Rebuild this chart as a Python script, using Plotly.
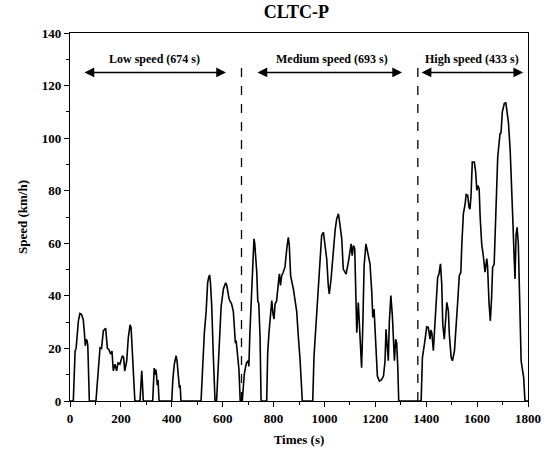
import plotly.graph_objects as go

time_s = [0, 13, 20, 24, 33, 39, 45, 52, 56, 60, 63, 67, 70, 76,
          102, 111, 118, 124, 131, 140, 147, 153, 160, 165, 170, 177, 183, 189, 196, 206, 211, 215, 223, 229, 236, 240, 245, 252, 255,
          275, 279, 282, 285, 288,
          325, 328, 331, 334, 337, 340, 343, 346, 350,
          400, 404, 410, 417, 421, 426, 430, 433, 436,
          515, 518, 528, 535, 541, 546, 549, 552, 557, 563, 570,
          576, 581, 586, 590, 594, 598, 603, 608, 612, 616, 620, 625, 629, 635, 642, 646, 650, 653, 657, 660, 664, 669,
          677, 681, 685, 690, 694, 700, 703, 707, 714, 720, 723, 726, 730, 734, 738, 742, 747, 751,
          773, 775, 777, 782, 789, 793, 798, 802, 806, 812, 819, 823, 827, 832, 838, 845, 852, 858, 862, 867, 878, 891, 897, 904, 913,
          954, 959, 963, 970, 976, 983, 989, 996, 1002, 1009, 1015, 1019, 1026, 1035, 1042, 1048, 1055, 1061, 1068, 1074, 1085,
          1094, 1101, 1105, 1109, 1114, 1119, 1124, 1127, 1133, 1140, 1146, 1150, 1156, 1163, 1172, 1179, 1186, 1190, 1195, 1199,
          1203, 1208, 1216, 1224, 1232, 1238, 1242, 1247, 1251, 1255, 1261, 1267, 1271, 1275, 1280, 1284, 1288, 1292,
          1380, 1385, 1393, 1398, 1402, 1408, 1415, 1418, 1422, 1428, 1435, 1439, 1445, 1450, 1456, 1461, 1465, 1471, 1476, 1481,
          1487, 1491, 1498, 1503, 1511, 1518, 1524, 1530, 1536, 1540, 1546, 1553, 1557, 1563, 1568, 1572, 1576, 1581, 1589, 1594,
          1599, 1603, 1608, 1612, 1618, 1625, 1631, 1638, 1641, 1647, 1652, 1657, 1661, 1667, 1673, 1681, 1690, 1694, 1699, 1707,
          1713, 1718, 1723, 1730, 1736, 1740, 1745, 1749, 1753, 1757, 1762, 1768, 1773, 1779, 1783, 1788, 1800]

speed_kmh = [0, 0, 19, 20, 30.5, 33.3, 33, 31, 26.7, 21, 23.5, 23, 21, 0,
             0, 11.4, 20.3, 20, 26.7, 27.7, 20, 19.5, 17.8, 19, 11.5, 14, 11.5, 14.5, 14, 17.2, 16.5, 11.4, 15.3, 24, 29, 28, 19, 6.4, 0,
             0, 9, 11.5, 6, 0,
             0, 10, 12.5, 10, 12, 10, 6, 8, 0,
             0, 8, 14, 17.2, 15, 10, 5, 6, 0,
             0, 6, 26, 34, 45, 47.5, 47.7, 45, 36, 18, 0,
             0, 12, 23, 28, 36, 40, 42.6, 44, 45, 44, 41, 39, 38, 37, 34, 27, 22, 23, 17, 16, 12, 0,
             0, 6, 10.2, 13, 14.6, 15.3, 13.2, 26, 44, 57, 61.7, 60, 55, 49, 38, 37, 24, 0,
             0, 8, 18.4, 26, 32.4, 38.2, 33, 31.2, 36.9, 38, 45, 48.4, 44, 47.7, 49, 51, 58, 62.3, 59, 47.7, 42.6, 34, 25, 16, 0,
             0, 17, 23.7, 34, 41.5, 52.8, 63, 64.2, 59, 54, 44, 40.7, 46.4, 59, 65, 69.3, 71.2, 67, 61.7, 50.2, 48.3,
             52.8, 57.9, 59.8, 55.3, 59.1, 58, 36, 26, 37.5, 23.5, 12.7, 26, 51.5, 59.8, 55.3, 52.2, 41.5, 31.8, 35, 27,
             19.7, 9.5, 7.6, 8, 9.5, 15, 27.3, 22, 15.3, 30, 40.1, 32.4, 23.5, 15.3, 23.5, 22, 13.4, 0,
             0, 16.5, 21.6, 25, 28.2, 28, 23.5, 27, 26, 19.1, 30, 36.9, 47, 48.3, 52.2, 44.5, 29.3, 23.5, 31, 37.5,
             34.3, 25, 16.5, 15.3, 19.1, 31.8, 38.2, 47.7, 49, 59.8, 71.2, 75, 78.6, 78.3, 73.8, 73, 78, 90.9, 90.9, 87.5,
             80.1, 82, 80.8, 69.9, 59.8, 54.7, 49, 54.2, 51.5, 36.9, 30.5, 39.4, 50.9, 52, 67.4, 92.8, 101.7, 102, 110, 113.2,
             113.4, 109.4, 106, 95.4, 75, 69.9, 56, 46.4, 63.2, 66.1, 59.8, 29.3, 15.3, 11.4, 8.9, 0, 0]

phase_bounds = [674, 1367]
phase_labels = ["Low speed (674 s)", "Medium speed (693 s)", "High speed (433 s)"]
phase_label_x = [334, 1030, 1580]
arrow_start = [51, 731, 1376]
arrow_end = [613, 1305, 1781]

FONT = "Liberation Serif"

fig = go.Figure()
fig.add_trace(go.Scatter(x=time_s, y=speed_kmh, mode="lines",
                         line=dict(color="black", width=1.6), showlegend=False))

for b in phase_bounds:
    fig.add_shape(type="line", x0=b, x1=b, y0=0, y1=127, xref="x", yref="y",
                  line=dict(color="black", width=1.3, dash="dash"))

for lab, lx, a0, a1 in zip(phase_labels, phase_label_x, arrow_start, arrow_end):
    fig.add_annotation(x=a1, y=125, ax=a0, ay=125, xref="x", yref="y", axref="x", ayref="y",
                       text="", showarrow=True, arrowhead=2, arrowside="end+start",
                       arrowsize=1.3, arrowwidth=1.5, arrowcolor="black")
    fig.add_annotation(x=lx, y=130, xref="x", yref="y", text=lab, showarrow=False,
                       font=dict(family=FONT, size=12, color="black", weight="bold"),
                       yanchor="middle")

axis_common = dict(showline=True, linecolor="black", linewidth=1.3, mirror=True,
                   showgrid=False, zeroline=False, ticks="outside", ticklen=5,
                   tickcolor="black", tickwidth=1.2, automargin=False,
                   tickfont=dict(family=FONT, size=13, color="black", weight="bold"))

fig.update_xaxes(range=[0, 1800], dtick=200, tick0=0,
                 minor=dict(dtick=100, ticks="outside", ticklen=3, tickcolor="black", tickwidth=1),
                 title=dict(text="Times (s)", font=dict(family=FONT, size=13, color="black", weight="bold"),
                            standoff=10),
                 **axis_common)
fig.update_yaxes(range=[0, 140], dtick=20, tick0=0,
                 minor=dict(dtick=10, ticks="outside", ticklen=3, tickcolor="black", tickwidth=1),
                 title=dict(text="Speed (km/h)", font=dict(family=FONT, size=13, color="black", weight="bold"),
                            standoff=11),
                 **axis_common)

fig.update_layout(
    width=553, height=455,
    margin=dict(l=70, r=25, t=33, b=54),
    paper_bgcolor="white", plot_bgcolor="white",
    font=dict(family=FONT, color="black"),
    title=dict(text="CLTC-P", x=0.536, xanchor="center", y=1 - 12 / 455, yref="container", yanchor="middle",
               font=dict(family=FONT, size=18, color="black", weight="bold")),
)

fig.write_html("out.html")
